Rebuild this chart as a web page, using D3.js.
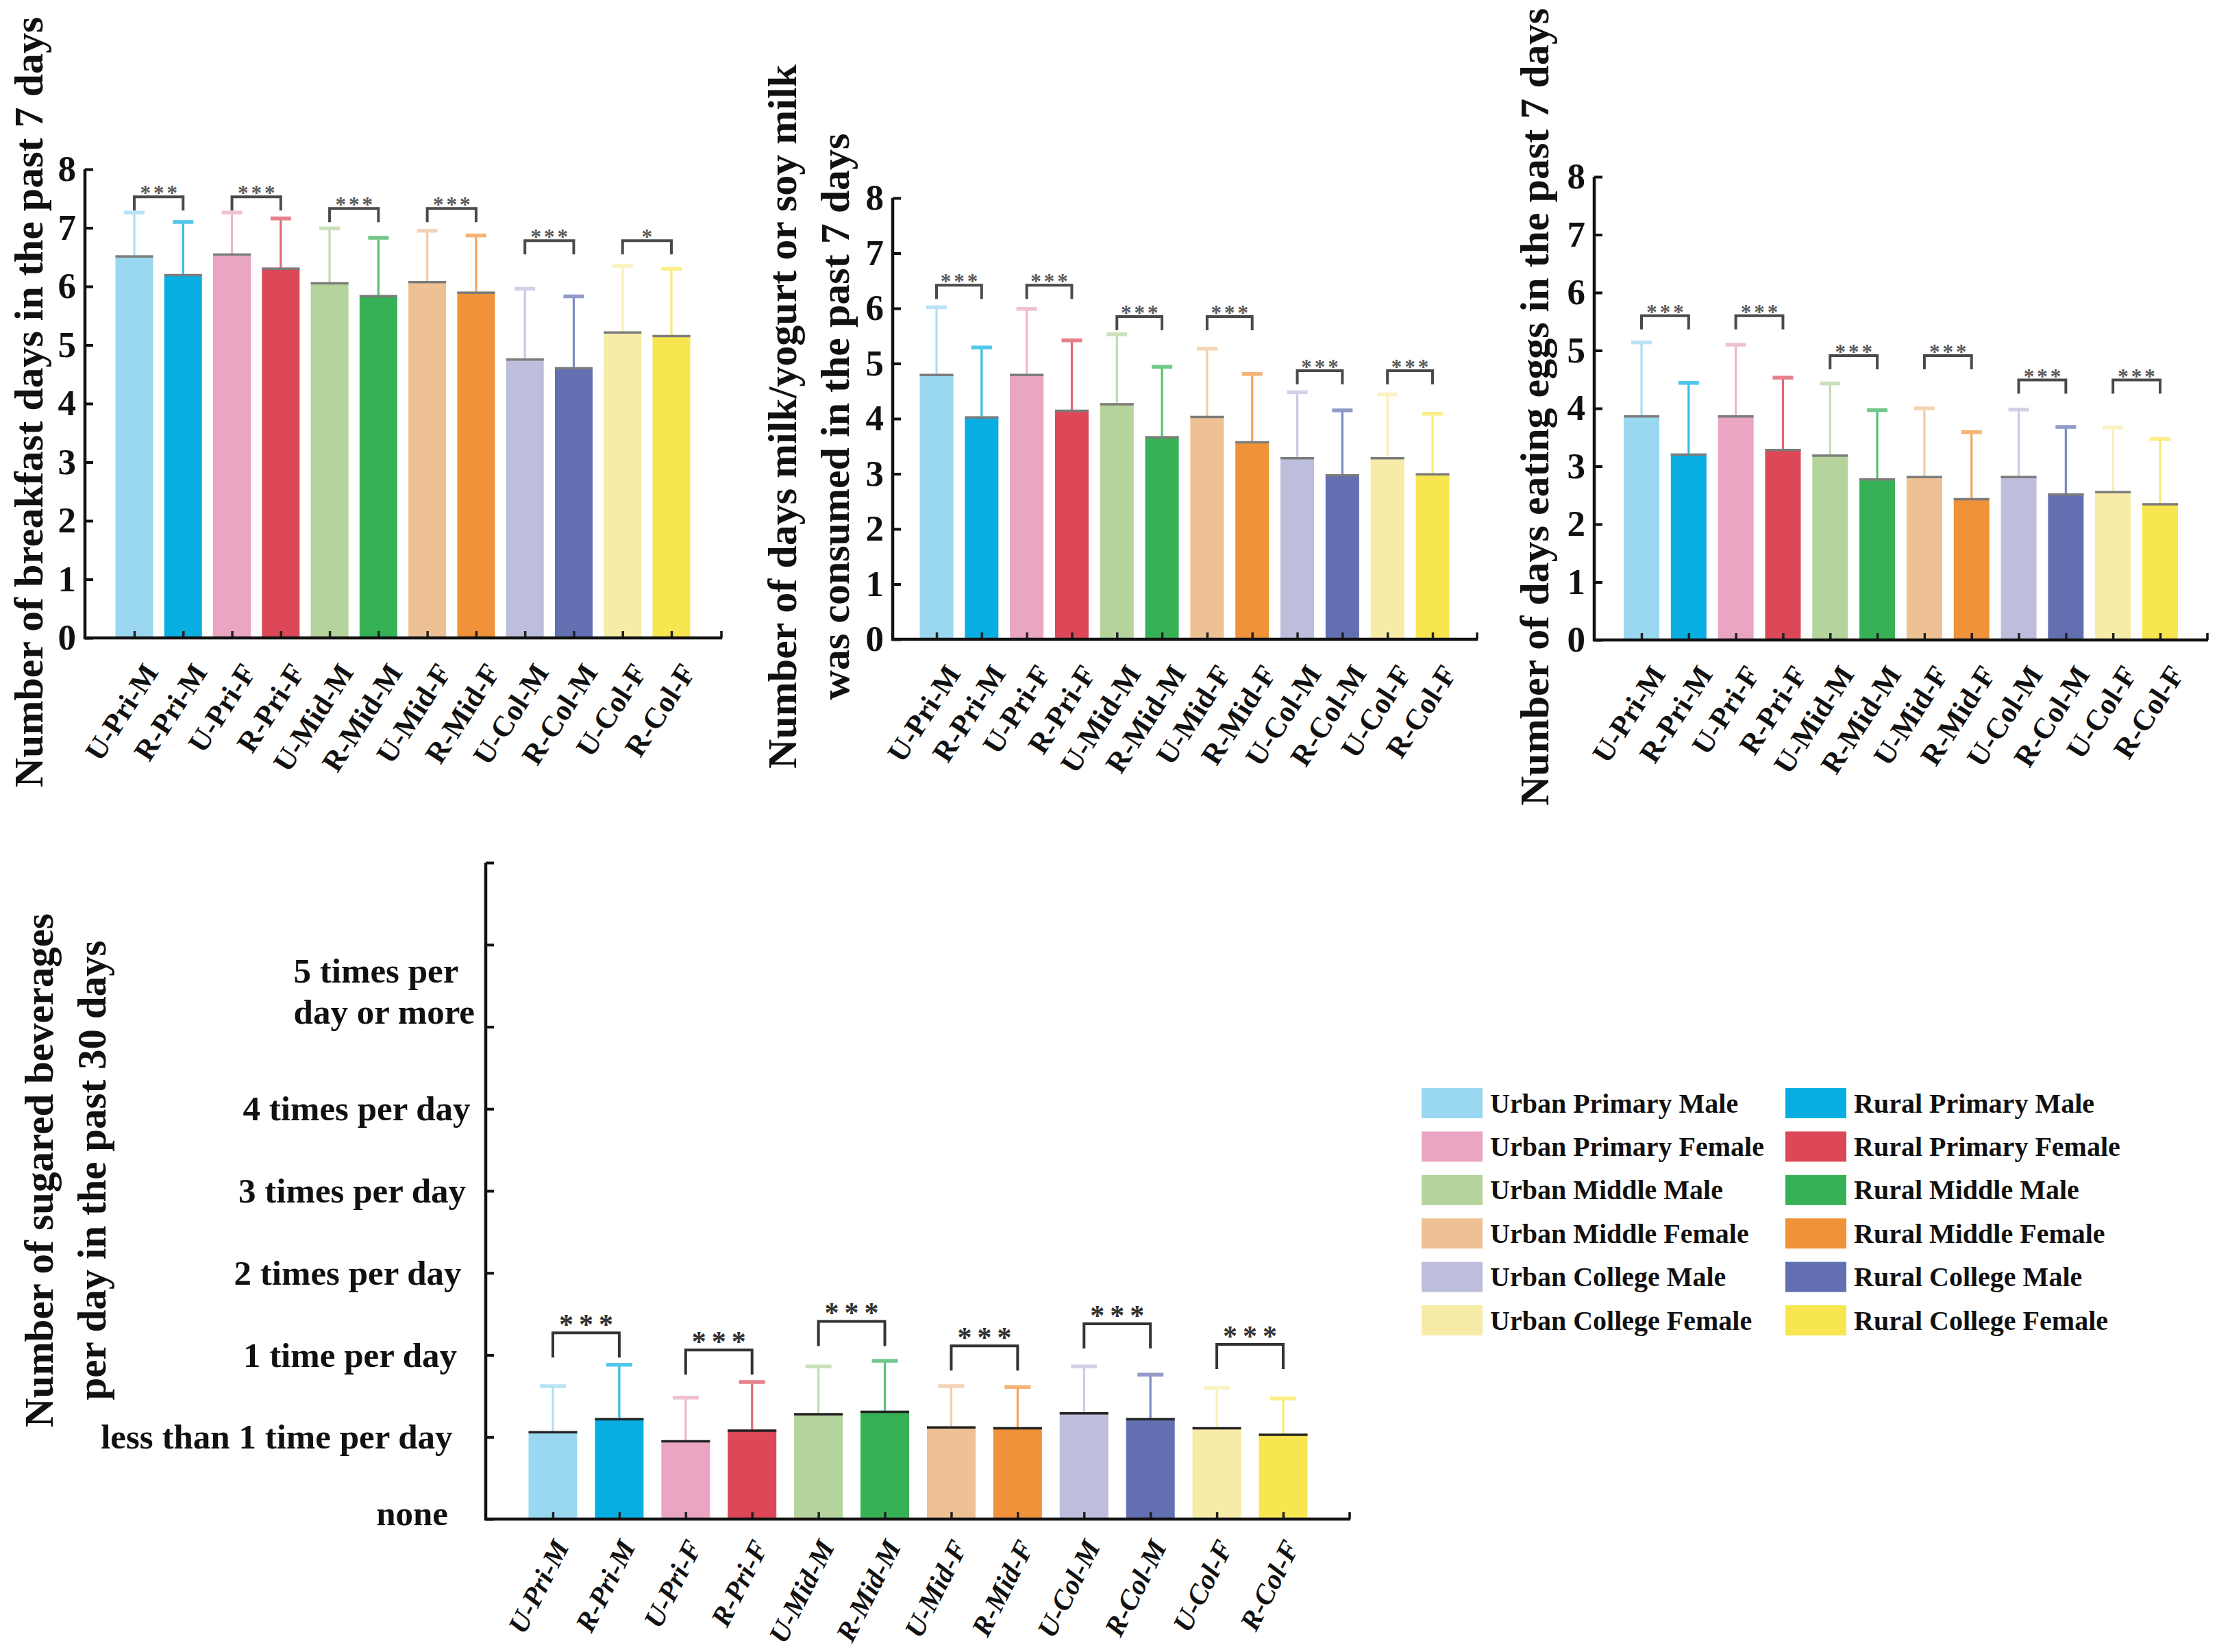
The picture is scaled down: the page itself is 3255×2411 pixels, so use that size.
<!DOCTYPE html>
<html>
<head>
<meta charset="utf-8">
<script src="https://cdn.jsdelivr.net/npm/d3@7"></script>
<style>
  html, body { margin: 0; padding: 0; background: #fff; }
  svg { display: block; }
</style>
</head>
<body>
<svg id="chart" width="3255" height="2411"></svg>
<script>
// ---------------- DATA ----------------
const categories = ["U-Pri-M","R-Pri-M","U-Pri-F","R-Pri-F","U-Mid-M","R-Mid-M","U-Mid-F","R-Mid-F","U-Col-M","R-Col-M","U-Col-F","R-Col-F"];
const legendLabels = ["Urban Primary Male","Rural Primary Male","Urban Primary Female","Rural Primary Female","Urban Middle Male","Rural Middle Male","Urban Middle Female","Rural Middle Female","Urban College Male","Rural College Male","Urban College Female","Rural College Female"];
const colors = ["#9AD7F1","#08AEE2","#E9A5C2","#DC4858","#B4D49C","#36B156","#EEC195","#EF9239","#BDBEDC","#626FB1","#F6ECA8","#F8E650"];

// Panel 1: breakfast days
const breakfastMean = [6.53,6.21,6.56,6.32,6.07,5.85,6.09,5.91,4.77,4.62,5.23,5.17];
const breakfastSD   = [0.73,0.89,0.70,0.84,0.92,0.98,0.86,0.96,1.19,1.21,1.12,1.13];
const breakfastBracket = [7.53,7.53,7.33,7.33,6.78,6.78];
const breakfastSig = ["***","***","***","***","***","*"];

// Panel 2: milk days
const milkMean = [4.81,4.04,4.81,4.16,4.28,3.68,4.05,3.59,3.30,2.99,3.30,3.01];
const milkSD   = [1.21,1.25,1.18,1.26,1.25,1.26,1.22,1.22,1.18,1.16,1.14,1.08];
const milkBracket = [6.42,6.42,5.85,5.85,4.87,4.87];
const milkSig = ["***","***","***","***","***","***"];

// Panel 3: egg days
const eggMean = [3.88,3.22,3.88,3.30,3.20,2.79,2.83,2.45,2.83,2.53,2.57,2.36];
const eggSD   = [1.26,1.22,1.22,1.23,1.23,1.18,1.17,1.14,1.15,1.15,1.10,1.11];
const eggBracket = [5.60,5.60,4.91,4.91,4.49,4.49];
const eggSig = ["***","***","***","***","***","***"];

// Panel 4: sugared beverages
const sugarMean = [1.07,1.23,0.96,1.09,1.29,1.32,1.13,1.12,1.30,1.23,1.12,1.04];
const sugarSD   = [0.55,0.65,0.52,0.58,0.57,0.61,0.49,0.49,0.56,0.53,0.48,0.43];
const sugarBracket = [2.27,2.06,2.41,2.11,2.38,2.13];
const sugarSig = ["***","***","***","***","***","***"];
const sugarTickLabels = ["none","less than 1 time per day","1 time per day","2 times per day","3 times per day","4 times per day","5 times per day or more"];

const dayTicks = [0,1,2,3,4,5,6,7,8];

// ---------------- DRAW ----------------
const FONT = "'Liberation Serif','Times New Roman',Times,serif";
const svg = d3.select("#chart");
svg.append("rect").attr("width",3255).attr("height",2411).attr("fill","#fff");

function lighten(c, t) { return d3.interpolateRgb(c, "#ffffff")(t); }

function drawPanel(o) {
  const g = svg.append("g");
  const y = d3.scaleLinear().domain([0, 8]).range([o.y0, o.y8]);
  const x = d3.scalePoint().domain(categories).range([o.first, o.last]);

  // bars
  const bars = g.append("g");
  categories.forEach((c, i) => {
    const cx = x(c), m = o.means[i], sd = o.sds[i];
    const col = colors[i];
    bars.append("line")
      .attr("x1", cx).attr("x2", cx)
      .attr("y1", y(m)).attr("y2", y(m + sd))
      .attr("stroke", lighten(col, 0.18)).attr("stroke-width", 3.2);
    bars.append("line")
      .attr("x1", cx - o.capW / 2).attr("x2", cx + o.capW / 2)
      .attr("y1", y(m + sd)).attr("y2", y(m + sd))
      .attr("stroke", lighten(col, 0.3)).attr("stroke-width", 5.5);
    bars.append("rect")
      .attr("x", cx - o.barW / 2).attr("width", o.barW)
      .attr("y", y(m)).attr("height", y(0) - y(m))
      .attr("fill", col);
    bars.append("line")
      .attr("x1", cx - o.barW / 2).attr("x2", cx + o.barW / 2)
      .attr("y1", y(m) + 1.5).attr("y2", y(m) + 1.5)
      .attr("stroke", o.topColor).attr("stroke-width", 3.5);
  });

  // y axis
  const ya = d3.axisLeft(y).tickValues(dayTicks)
    .tickSizeInner(-12).tickSizeOuter(0).tickPadding(o.yPad)
    .tickFormat(o.yFormat || (d => d));
  const yg = g.append("g").attr("transform", `translate(${o.x0},0)`).call(ya);
  yg.select(".domain").remove();
  yg.selectAll(".tick line").attr("stroke", "#111").attr("stroke-width", 4);
  yg.selectAll(".tick text")
    .attr("font-family", FONT).attr("font-weight", "bold")
    .attr("font-size", o.yFont).attr("fill", "#111");
  if (o.customY) o.customY(yg, y);

  // x axis
  const xa = d3.axisBottom(x).tickSizeInner(-10).tickSizeOuter(0).tickPadding(0);
  const xg = g.append("g").attr("transform", `translate(0,${o.y0})`).call(xa);
  xg.select(".domain").remove();
  xg.selectAll(".tick line").attr("stroke", "#222").attr("stroke-width", 3.5);
  xg.selectAll(".tick text")
    .attr("font-family", FONT).attr("font-weight", "bold")
    .attr("font-style", o.italic ? "italic" : "normal")
    .attr("font-size", o.xFont).attr("fill", "#111")
    .attr("text-anchor", "end").attr("y", 0).attr("dy", 0)
    .attr("transform", `translate(${o.xOff[0]},${o.xOff[1]}) rotate(${o.rot})`);

  // axis lines
  g.append("line").attr("x1", o.x0).attr("x2", o.x0)
    .attr("y1", o.y0 + 2).attr("y2", y(8))
    .attr("stroke", "#111").attr("stroke-width", 4.5);
  g.append("line").attr("x1", o.x0 - 2).attr("x2", o.x1)
    .attr("y1", o.y0).attr("y2", o.y0)
    .attr("stroke", "#111").attr("stroke-width", 4.5);
  g.append("line").attr("x1", o.x1 - 1).attr("x2", o.x1 - 1)
    .attr("y1", o.y0).attr("y2", o.y0 - 10)
    .attr("stroke", "#111").attr("stroke-width", 3.5);

  // significance brackets
  const br = g.append("g");
  o.brackets.forEach((b, k) => {
    const xa1 = x(categories[2 * k]), xa2 = x(categories[2 * k + 1]);
    const by = y(b);
    br.append("path")
      .attr("d", `M${xa1},${by + o.leg}V${by}H${xa2}V${by + o.leg}`)
      .attr("fill", "none").attr("stroke", o.brColor).attr("stroke-width", 4);
    br.append("text")
      .attr("x", (xa1 + xa2) / 2 + o.starSpacing / 2).attr("y", by + o.starDy)
      .attr("text-anchor", "middle")
      .attr("font-family", FONT).attr("font-weight", "bold")
      .attr("font-size", o.starFont).attr("letter-spacing", o.starSpacing)
      .attr("fill", o.starColor)
      .text(o.sig[k]);
  });

  // y title (rotated -90: local y maps to screen x)
  const tt = g.append("text")
    .attr("transform", `translate(0,${o.titleY}) rotate(-90)`)
    .attr("text-anchor", "middle")
    .attr("font-family", FONT).attr("font-weight", "bold")
    .attr("font-size", o.titleFont).attr("fill", "#111");
  o.title.forEach((line, i) => {
    tt.append("tspan").attr("x", 0).attr("y", o.titleX[i])
      .attr("dominant-baseline", "central").text(line);
  });
}

// Panel 1
drawPanel({
  x0: 124, x1: 1054, y0: 931, y8: 247, first: 196, last: 980, barW: 55, capW: 30,
  means: breakfastMean, sds: breakfastSD, brackets: breakfastBracket, sig: breakfastSig,
  topColor: "#7c7c7c", brColor: "#4a4a4a", leg: 20, starFont: 31, starSpacing: 4, starDy: 5, starColor: "#5a5a5a",
  yFont: 53, yPad: 13, xFont: 43, italic: false, xOff: [36, 50], rot: -57,
  title: ["Number of breakfast days in the past 7 days"], titleX: [42], titleY: 587, titleFont: 60
});

// Panel 2
drawPanel({
  x0: 1303, x1: 2157, y0: 933, y8: 289, first: 1367, last: 2091, barW: 49, capW: 30,
  means: milkMean, sds: milkSD, brackets: milkBracket, sig: milkSig,
  topColor: "#7c7c7c", brColor: "#4a4a4a", leg: 20, starFont: 31, starSpacing: 4, starDy: 5, starColor: "#5a5a5a",
  yFont: 53, yPad: 13, xFont: 43, italic: false, xOff: [36, 50], rot: -57,
  title: ["Number of days milk/yogurt or soy milk", "was consumed in the past 7 days"], titleX: [1142, 1219], titleY: 608, titleFont: 60
});

// Panel 3
drawPanel({
  x0: 2327, x1: 3223, y0: 934, y8: 258, first: 2396, last: 3153, barW: 52, capW: 30,
  means: eggMean, sds: eggSD, brackets: eggBracket, sig: eggSig,
  topColor: "#7c7c7c", brColor: "#4a4a4a", leg: 20, starFont: 31, starSpacing: 4, starDy: 5, starColor: "#5a5a5a",
  yFont: 53, yPad: 13, xFont: 43, italic: false, xOff: [36, 50], rot: -57,
  title: ["Number of days eating eggs in the past 7 days"], titleX: [2240], titleY: 594, titleFont: 60
});

// Panel 4
drawPanel({
  x0: 709, x1: 1971, y0: 2217, y8: 1259, first: 807, last: 1873, barW: 71, capW: 38,
  means: sugarMean, sds: sugarSD, brackets: sugarBracket, sig: sugarSig,
  topColor: "#222", brColor: "#333", leg: 36, starFont: 42, starSpacing: 8, starDy: 2, starColor: "#333",
  yFont: 51, yPad: 20, xFont: 41, italic: true, xOff: [24, 40], rot: -63,
  yFormat: d => "",
  customY: (yg, y) => {
    const lab = svg.append("g")
      .attr("font-family", FONT).attr("font-weight", "bold")
      .attr("font-size", 51).attr("fill", "#111");
    sugarTickLabels.forEach((t, v) => {
      const right = 709 - 55 + 6.5 * v;
      if (v < 6) {
        lab.append("text").attr("x", right).attr("y", y(v) + (v === 0 ? -8 : 0))
          .attr("text-anchor", "end").attr("dominant-baseline", "central").text(t);
      } else {
        const l2 = lab.append("text").attr("x", right).attr("y", y(v) - 22)
          .attr("text-anchor", "end").attr("dominant-baseline", "central").text("day or more");
        const left = right - l2.node().getComputedTextLength();
        lab.append("text").attr("x", left).attr("y", y(v) - 82)
          .attr("text-anchor", "start").attr("dominant-baseline", "central").text("5 times per");
      }
    });
  },
  title: ["Number of sugared beverages", "per day in the past 30 days"], titleX: [57, 134], titleY: 1708, titleFont: 59
});

// Legend
const legendG = svg.append("g")
  .attr("font-family", FONT).attr("font-weight", "bold").attr("font-size", 40).attr("fill", "#111");
legendLabels.forEach((lab, i) => {
  const row = Math.floor(i / 2), col = i % 2;
  const sx = col === 0 ? 2075 : 2606;
  const cy = 1610 + row * 63.4;
  legendG.append("rect").attr("x", sx).attr("y", cy - 22).attr("width", 89).attr("height", 44)
    .attr("fill", colors[i]);
  legendG.append("text").attr("x", sx + 100).attr("y", cy).attr("dominant-baseline", "central")
    .text(lab);
});
</script>
</body>
</html>
